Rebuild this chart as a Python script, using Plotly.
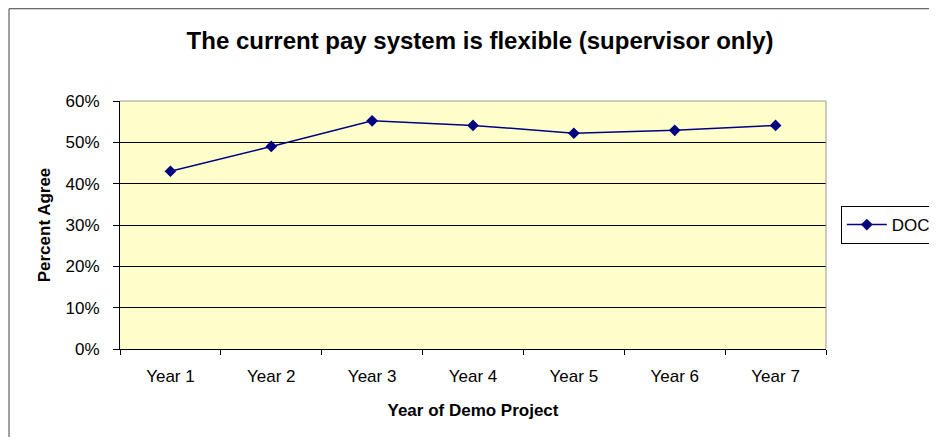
import plotly.graph_objects as go

# Chart data
YEARS = ["Year 1", "Year 2", "Year 3", "Year 4", "Year 5", "Year 6", "Year 7"]
DOC_AGREE = [0.43, 0.49, 0.552, 0.541, 0.522, 0.529, 0.541]
Y_TICKS = [0, 0.1, 0.2, 0.3, 0.4, 0.5, 0.6]

FONT = "Liberation Sans, Arial, sans-serif"
NAVY = "#000080"

fig = go.Figure()
fig.add_trace(go.Scatter(
    x=YEARS,
    y=DOC_AGREE,
    mode="lines+markers",
    name="DOC",
    line=dict(color=NAVY, width=1.5),
    marker=dict(symbol="diamond", size=9, color=NAVY),
))

# figure is wider than the window on purpose: the legend runs off the right edge
# like in the original, and it must not push the plot area margin
fig.update_layout(
    width=1000,
    height=429,
    margin=dict(l=112, r=182, t=93, b=88),
    paper_bgcolor="white",
    plot_bgcolor="#FFFFCC",
    font=dict(family=FONT, size=17, color="black"),
    title=dict(
        text="<b>The current pay system is flexible (supervisor only)</b>",
        x=0.51, xanchor="center", xref="paper",
        y=0.925, yanchor="middle",
        font=dict(size=24, color="black"),
    ),
    showlegend=True,
    legend=dict(
        x=1.021, xanchor="left",
        y=0.5, yanchor="middle",
        bordercolor="black", borderwidth=1,
        bgcolor="white",
        font=dict(size=17, color="black"),
        itemwidth=40,
    ),
    xaxis=dict(
        type="category",
        range=[-0.5, 6.5],
        tickson="boundaries",
        ticks="outside",
        ticklen=5,
        tickcolor="black",
        ticklabelstandoff=12,
        showline=True,
        linecolor="black",
        linewidth=1,
        showgrid=False,
        title=dict(text="<b>Year of Demo Project</b>", font=dict(size=17), standoff=18),
        automargin=False,
        fixedrange=True,
    ),
    yaxis=dict(
        range=[0, 0.6],
        tickvals=Y_TICKS,
        tickformat=".0%",
        ticks="outside",
        ticklen=6,
        tickcolor="black",
        ticklabelstandoff=10,
        showline=True,
        linecolor="black",
        linewidth=1,
        showgrid=True,
        gridcolor="black",
        gridwidth=1,
        zeroline=False,
        title=dict(text="<b>Percent Agree</b>", font=dict(size=17), standoff=10),
        automargin=False,
        fixedrange=True,
    ),
    shapes=[
        # outer chart border (runs past the visible area on right and bottom)
        dict(type="rect", xref="paper", yref="paper",
             x0=-0.1572, x1=1.5, y0=-0.6, y1=1.372,
             line=dict(color="#404040", width=1), layer="below"),
        # gray top/right edges of the plot area
        dict(type="line", xref="paper", yref="paper", x0=0, x1=1, y0=1, y1=1,
             line=dict(color="#9a9a9a", width=1), layer="above"),
        dict(type="line", xref="paper", yref="paper", x0=1, x1=1, y0=0, y1=1,
             line=dict(color="#9a9a9a", width=1), layer="above"),
    ],
)

fig.write_html("out.html")
